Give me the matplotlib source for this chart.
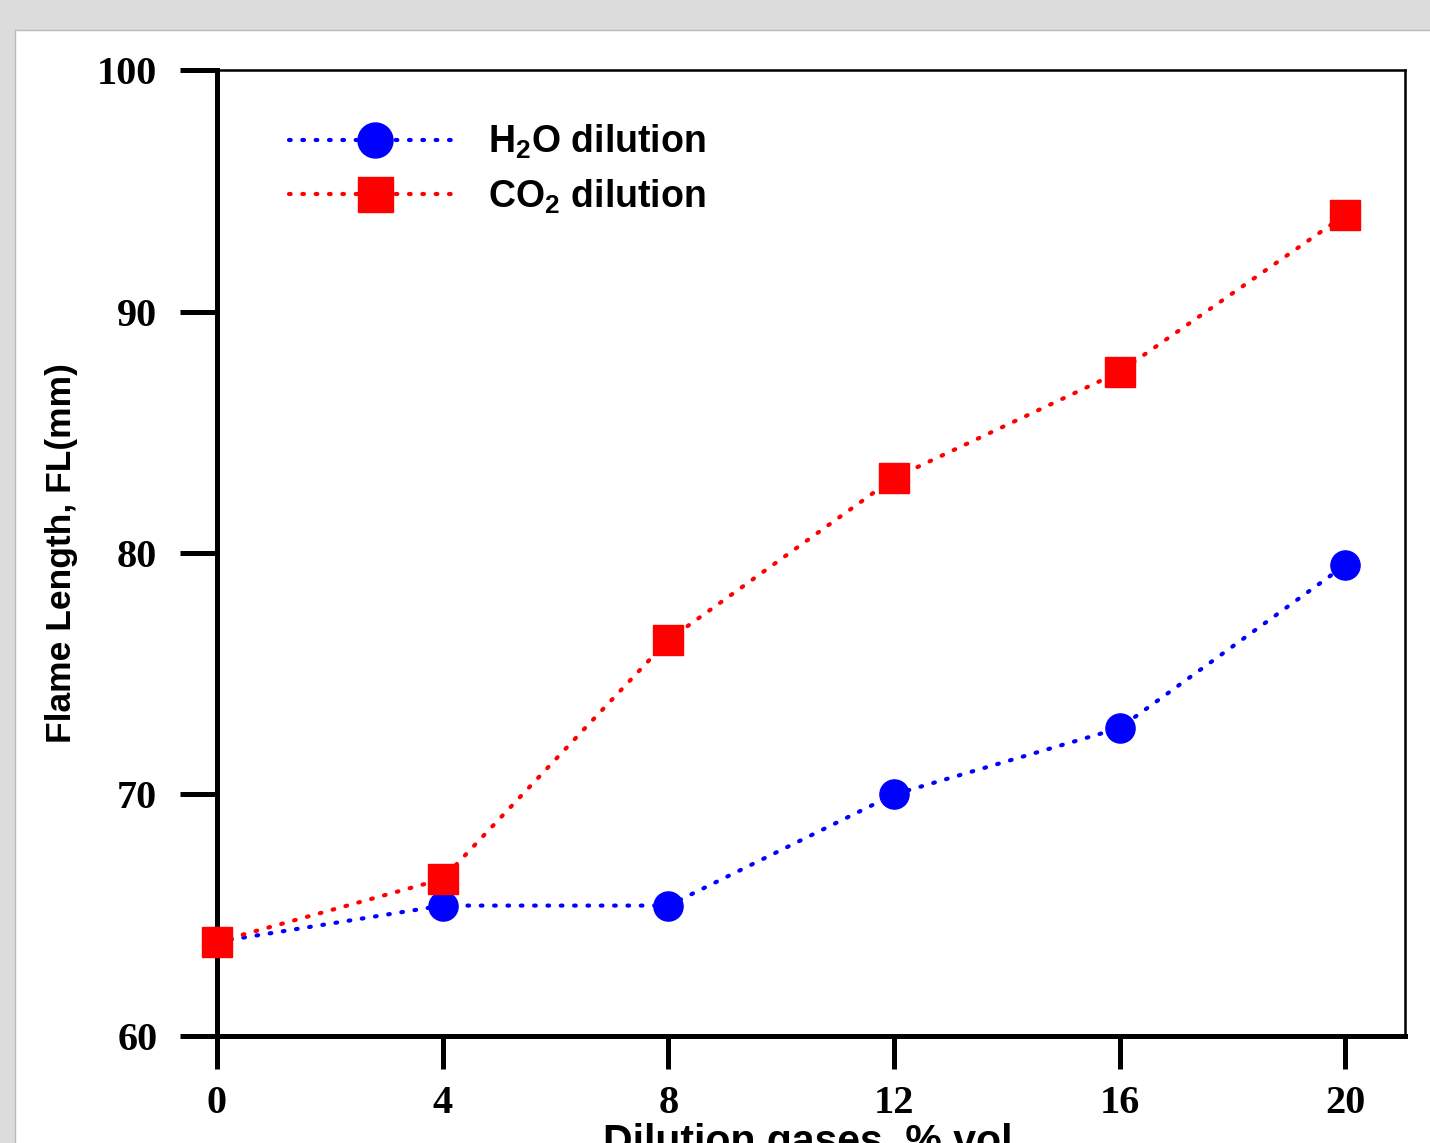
import matplotlib
matplotlib.use("Agg")
import matplotlib.pyplot as plt
from matplotlib.patches import Rectangle

# data
dilution = [0, 4, 8, 12, 16, 20]
h2o_fl = [63.9, 65.4, 65.4, 70.0, 72.75, 79.5]
co2_fl = [63.9, 66.5, 76.4, 83.1, 87.5, 94.0]
x_ticks = [0, 4, 8, 12, 16, 20]
y_ticks = [60, 70, 80, 90, 100]

plt.rcParams["mathtext.fontset"] = "custom"
plt.rcParams["mathtext.rm"] = "Liberation Sans:bold"
plt.rcParams["mathtext.bf"] = "Liberation Sans:bold"

fig = plt.figure(figsize=(14.3, 11.43), dpi=100)
fig.patch.set_facecolor("#dcdcdc")
panel = Rectangle((15 / 1430, -0.05), 1.2, (1143 - 30) / 1143 + 0.05,
                  transform=fig.transFigure, facecolor="white",
                  edgecolor="#bbbbbb", linewidth=1.0, zorder=-10)
fig.patches.append(panel)

ax = fig.add_axes([217 / 1430, 107 / 1143, (1405 - 217) / 1430, (1036 - 70) / 1143])
ax.set_facecolor("white")

dots = (0, (0.4, 2.8))
ax.plot(dilution, h2o_fl, color="blue", linestyle=dots, dash_capstyle="round", lw=3,
        marker="o", markersize=21, label="H$_2$O dilution", clip_on=False, zorder=3)
ax.plot(dilution, co2_fl, color="red", linestyle=dots, dash_capstyle="round", lw=3,
        marker="s", markersize=21, label="CO$_2$ dilution", clip_on=False, zorder=4)

ax.set_xlim(0, 21.06)
ax.set_ylim(60, 100)
ax.set_xticks(x_ticks)
ax.set_yticks(y_ticks)

for side in ["left", "bottom"]:
    ax.spines[side].set_linewidth(3.6)
for side in ["top", "right"]:
    ax.spines[side].set_linewidth(1.8)

ax.tick_params(axis="y", direction="out", length=27, width=3.6, pad=16)
ax.tick_params(axis="x", direction="out", length=24, width=3.6, pad=11)
for lab in ax.get_xticklabels() + ax.get_yticklabels():
    lab.set_fontfamily("Liberation Serif")
    lab.set_fontweight("bold")
    lab.set_fontsize(29)

ax.set_ylabel("Flame Length, FL(mm)", fontsize=25.5, fontweight="bold",
              fontfamily="Liberation Sans")
ax.yaxis.set_label_coords(-0.117, 0.5)

fig.text(0.565, (1143 - 1123) / 1143, "Dilution gases, % vol", ha="center", va="top",
         fontsize=29.5, fontweight="bold", fontfamily="Liberation Sans")

leg = ax.legend(loc="upper left", bbox_to_anchor=(0.032, 0.98), frameon=False,
                prop={"family": "Liberation Sans", "weight": "bold", "size": 27},
                handlelength=4.6, handletextpad=0.7, labelspacing=0.43, markerscale=1.2)

fig.savefig("out.png", dpi=100, facecolor=fig.get_facecolor())
